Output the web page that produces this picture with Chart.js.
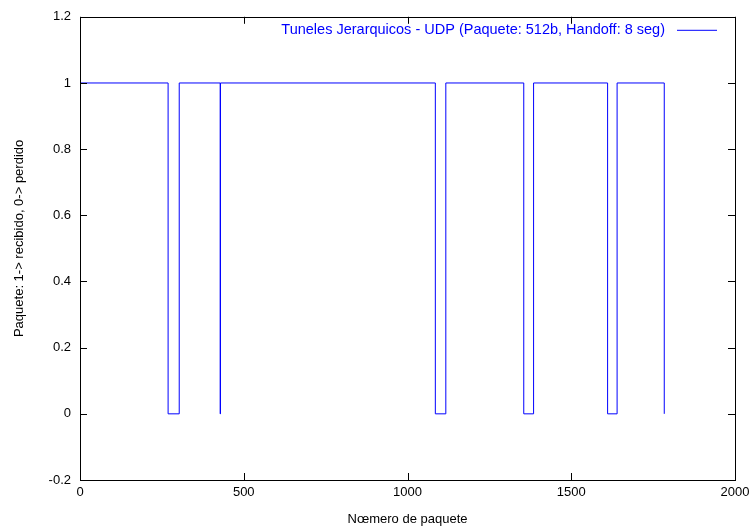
<!DOCTYPE html>
<html lang="es">
<head>
    <meta charset="UTF-8">
    <title>Tuneles Jerarquicos - UDP</title>
    <script src="https://cdn.jsdelivr.net/npm/chart.js"></script>
    <style>
        html, body {
            margin: 0;
            padding: 0;
            background: #ffffff;
        }
        #wrap {
            width: 755px;
            height: 530px;
        }
    </style>
</head>
<body>
    <div id="wrap">
        <canvas id="chart"></canvas>
    </div>

    <script>
        // Paquetes donde cambia el estado (1 = recibido, 0 = perdido)
        const packetNumbers = [0, 269, 303, 428, 429, 1085, 1117, 1355, 1385, 1611, 1640, 1784];
        const packetStatus  = [1, 0,   1,   0,   1,   0,    1,    0,    1,    0,    1,    0];

        const xTicks = [0, 500, 1000, 1500, 2000];
        const yTicks = [-0.2, 0, 0.2, 0.4, 0.6, 0.8, 1, 1.2];

        const seriesLabel = "Tuneles Jerarquicos - UDP (Paquete: 512b, Handoff: 8 seg)";
        const yTitle = "Paquete: 1-> recibido, 0-> perdido";
        const lineColor = "#0000ff";
        const font = "Liberation Sans, Arial, sans-serif";

        const points = packetNumbers.map((x, i) => ({ x: x, y: packetStatus[i] }));

        // marco negro con marcas hacia dentro, al estilo gnuplot
        const framePlugin = {
            id: "frame",
            afterDraw(chart) {
                const ctx = chart.ctx;
                const area = chart.chartArea;
                const xs = chart.scales.x;
                const ys = chart.scales.y;
                const len = 7;
                ctx.save();
                ctx.strokeStyle = "#000";
                ctx.lineWidth = 1;
                ctx.beginPath();
                xTicks.forEach(v => {
                    const px = Math.round(xs.getPixelForValue(v)) + 0.5;
                    ctx.moveTo(px, area.bottom);
                    ctx.lineTo(px, area.bottom - len);
                    ctx.moveTo(px, area.top);
                    ctx.lineTo(px, area.top + len);
                });
                yTicks.forEach(v => {
                    const py = Math.round(ys.getPixelForValue(v)) + 0.5;
                    ctx.moveTo(area.left, py);
                    ctx.lineTo(area.left + len, py);
                    ctx.moveTo(area.right, py);
                    ctx.lineTo(area.right - len, py);
                });
                ctx.stroke();
                ctx.strokeRect(Math.round(area.left) + 0.5, Math.round(area.top) + 0.5,
                    Math.round(area.right - area.left), Math.round(area.bottom - area.top));

                // titulo del eje y, un poco por encima del centro como en gnuplot
                ctx.save();
                ctx.translate(19, (area.top + area.bottom) / 2 - 10);
                ctx.rotate(-Math.PI / 2);
                ctx.font = "13px " + font;
                ctx.fillStyle = "#000";
                ctx.textAlign = "center";
                ctx.textBaseline = "middle";
                ctx.fillText(yTitle, 0, 0);
                ctx.restore();

                // leyenda
                ctx.font = "14.5px " + font;
                ctx.fillStyle = lineColor;
                ctx.textAlign = "right";
                ctx.textBaseline = "middle";
                const ly = area.top + 13;
                ctx.fillText(seriesLabel, area.right - 70, ly);
                ctx.strokeStyle = lineColor;
                ctx.beginPath();
                ctx.moveTo(area.right - 58, ly + 0.5);
                ctx.lineTo(area.right - 18, ly + 0.5);
                ctx.stroke();
                ctx.restore();
            }
        };

        new Chart(document.getElementById("chart"), {
            type: "line",
            data: {
                datasets: [{
                    label: seriesLabel,
                    data: points,
                    borderColor: lineColor,
                    borderWidth: 1,
                    pointRadius: 0,
                    stepped: true,
                    fill: false
                }]
            },
            options: {
                responsive: true,
                maintainAspectRatio: false,
                animation: false,
                layout: {
                    padding: { top: 13, right: 20, left: 0, bottom: 0 }
                },
                plugins: {
                    legend: { display: false },
                    tooltip: { enabled: false }
                },
                scales: {
                    x: {
                        type: "linear",
                        min: 0,
                        max: 2000,
                        afterBuildTicks: s => { s.ticks = xTicks.map(v => ({ value: v })); },
                        afterFit: s => { s.height = 50; },
                        grid: { display: false, drawTicks: false },
                        border: { display: false },
                        ticks: {
                            color: "#000",
                            padding: 5,
                            font: { family: font, size: 13 },
                            callback: v => String(v)
                        },
                        title: {
                            display: true,
                            text: "Nœmero de paquete",
                            color: "#000",
                            font: { family: font, size: 13 },
                            padding: { top: 2, bottom: 3 }
                        }
                    },
                    y: {
                        type: "linear",
                        min: -0.2,
                        max: 1.2,
                        afterBuildTicks: s => { s.ticks = yTicks.map(v => ({ value: v })); },
                        afterFit: s => { s.width = 80; },
                        grid: { display: false, drawTicks: false },
                        border: { display: false },
                        ticks: {
                            color: "#000",
                            padding: 9,
                            font: { family: font, size: 13 },
                            callback: v => String(Math.round(v * 10) / 10)
                        },
                        title: { display: false }
                    }
                }
            },
            plugins: [framePlugin]
        });
    </script>
</body>
</html>
